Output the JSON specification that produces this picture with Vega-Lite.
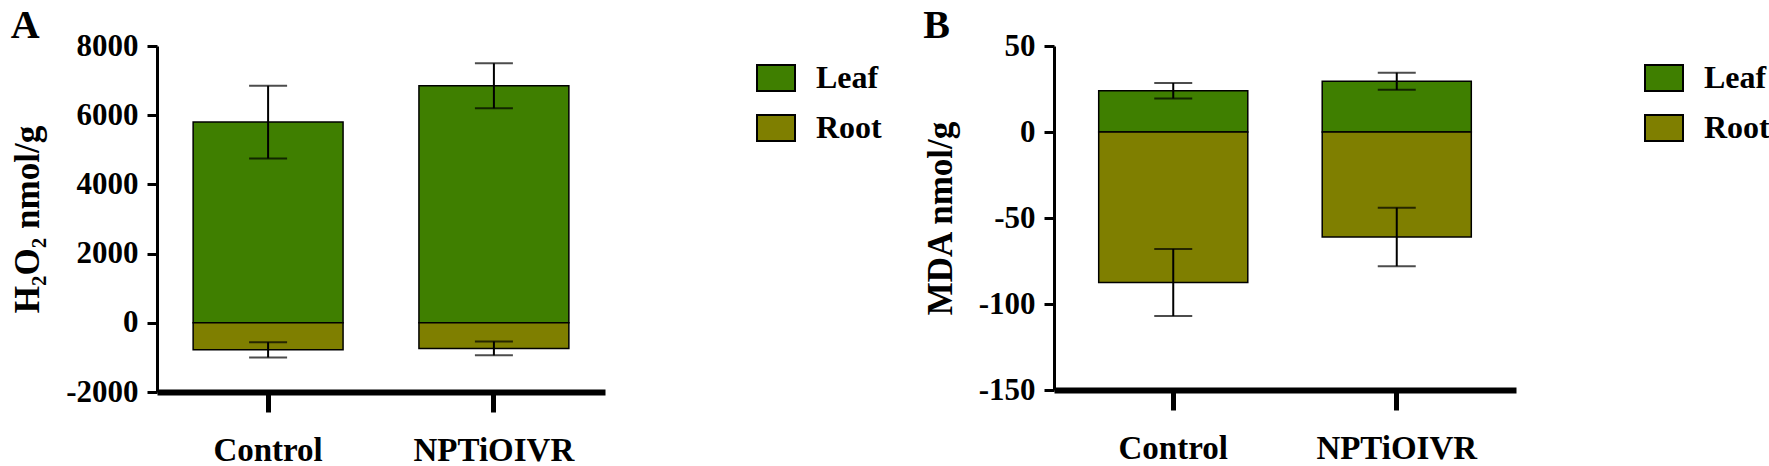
{
  "$schema": "https://vega.github.io/schema/vega-lite/v6.json",
  "padding": {"left": 10, "top": 6, "right": 0, "bottom": 0},
  "background": "white",
  "datasets": {
    "h2o2": [
      {"group": "Control", "tissue": "Leaf", "value": 5800, "err": 1050},
      {"group": "Control", "tissue": "Root", "value": -780, "err": 220},
      {"group": "NPTiOIVR", "tissue": "Leaf", "value": 6850, "err": 650},
      {"group": "NPTiOIVR", "tissue": "Root", "value": -740, "err": 200}
    ],
    "mda": [
      {"group": "Control", "tissue": "Leaf", "value": 24, "err": 4.5},
      {"group": "Control", "tissue": "Root", "value": -87.5, "err": 19.5},
      {"group": "NPTiOIVR", "tissue": "Leaf", "value": 29.5, "err": 5},
      {"group": "NPTiOIVR", "tissue": "Root", "value": -61, "err": 17}
    ]
  },
  "config": {
    "view": {"stroke": null},
    "font": "Liberation Serif",
    "title": {"font": "Liberation Serif", "fontWeight": "bold", "fontSize": 40, "anchor": "start", "frame": "bounds", "color": "black", "offset": -16},
    "axis": {
      "grid": false,
      "domainColor": "black",
      "tickColor": "black",
      "labelColor": "black",
      "titleColor": "black",
      "labelFont": "Liberation Serif",
      "titleFont": "Liberation Serif",
      "labelFontWeight": "bold",
      "titleFontWeight": "bold"
    },
    "legend": {
      "labelFont": "Liberation Serif",
      "labelFontWeight": "bold",
      "labelFontSize": 32,
      "labelColor": "black"
    }
  },
  "bounds": "flush",
  "spacing": 449,
  "resolve": {"scale": {"color": "independent"}},
  "hconcat": [
    {
      "title": {"text": "A"},
      "width": 448,
      "height": 346,
      "data": {"name": "h2o2"},
      "encoding": {
        "x": {
          "field": "group", "type": "nominal",
          "scale": {"paddingInner": 0.336, "paddingOuter": 0.16},
          "axis": {"title": null, "labelAngle": 0, "domainWidth": 6, "tickWidth": 5, "tickSize": 20, "labelFontSize": 33, "labelPadding": 22}
        }
      },
      "layer": [
        {
          "mark": {"type": "bar", "stroke": "black", "strokeWidth": 1.5},
          "encoding": {
            "y": {
              "field": "value", "type": "quantitative",
              "title": "H₂O₂ nmol/g",
              "scale": {"domain": [-2000, 8000], "nice": false},
              "axis": {"values": [-2000, 0, 2000, 4000, 6000, 8000], "labelExpr": "datum.value < 0 ? '-' + abs(datum.value) : '' + datum.value", "titleFontSize": 35, "titlePadding": 20, "labelFontSize": 31, "labelPadding": 9, "domainWidth": 3, "tickWidth": 3, "tickSize": 10}
            },
            "color": {
              "field": "tissue", "type": "nominal",
              "scale": {"domain": ["Leaf", "Root"], "range": ["#3f7f00", "#7f7f00"]},
              "legend": {"title": null, "orient": "none", "legendX": 599, "legendY": 12, "symbolType": "M-1,-0.684L1,-0.684L1,0.684L-1,0.684Z", "symbolSize": 1444, "symbolStrokeColor": "black", "symbolStrokeWidth": 2, "symbolOpacity": 1, "labelOffset": 20, "rowPadding": 13}
            }
          }
        },
        {
          "mark": {"type": "rule", "color": "black", "strokeWidth": 2.5},
          "encoding": {"y": {"datum": 0}}
        },
        {
          "mark": {"type": "errorbar", "ticks": {"size": 38, "color": "black", "thickness": 2}, "rule": {"color": "black", "strokeWidth": 2}},
          "encoding": {
            "y": {"field": "value", "type": "quantitative", "title": "H₂O₂ nmol/g"},
            "yError": {"field": "err"}
          }
        }
      ]
    },
    {
      "title": {"text": "B"},
      "width": 462,
      "height": 344,
      "data": {"name": "mda"},
      "encoding": {
        "x": {
          "field": "group", "type": "nominal",
          "scale": {"paddingInner": 0.333, "paddingOuter": 0.2},
          "axis": {"title": null, "labelAngle": 0, "domainWidth": 6, "tickWidth": 5, "tickSize": 20, "labelFontSize": 33, "labelPadding": 22}
        }
      },
      "layer": [
        {
          "mark": {"type": "bar", "stroke": "black", "strokeWidth": 1.5},
          "encoding": {
            "y": {
              "field": "value", "type": "quantitative",
              "title": "MDA nmol/g",
              "scale": {"domain": [-150, 50], "nice": false},
              "axis": {"values": [-150, -100, -50, 0, 50], "labelExpr": "datum.value < 0 ? '-' + abs(datum.value) : '' + datum.value", "titleFontSize": 35, "titlePadding": 20, "labelFontSize": 31, "labelPadding": 9, "domainWidth": 3, "tickWidth": 3, "tickSize": 10}
            },
            "color": {
              "field": "tissue", "type": "nominal",
              "scale": {"domain": ["Leaf", "Root"], "range": ["#3f7f00", "#7f7f00"]},
              "legend": {"title": null, "orient": "none", "legendX": 590, "legendY": 12, "symbolType": "M-1,-0.684L1,-0.684L1,0.684L-1,0.684Z", "symbolSize": 1444, "symbolStrokeColor": "black", "symbolStrokeWidth": 2, "symbolOpacity": 1, "labelOffset": 20, "rowPadding": 13}
            }
          }
        },
        {
          "mark": {"type": "rule", "color": "black", "strokeWidth": 2.5},
          "encoding": {"y": {"datum": 0}}
        },
        {
          "mark": {"type": "errorbar", "ticks": {"size": 38, "color": "black", "thickness": 2}, "rule": {"color": "black", "strokeWidth": 2}},
          "encoding": {
            "y": {"field": "value", "type": "quantitative", "title": "MDA nmol/g"},
            "yError": {"field": "err"}
          }
        }
      ]
    }
  ]
}
